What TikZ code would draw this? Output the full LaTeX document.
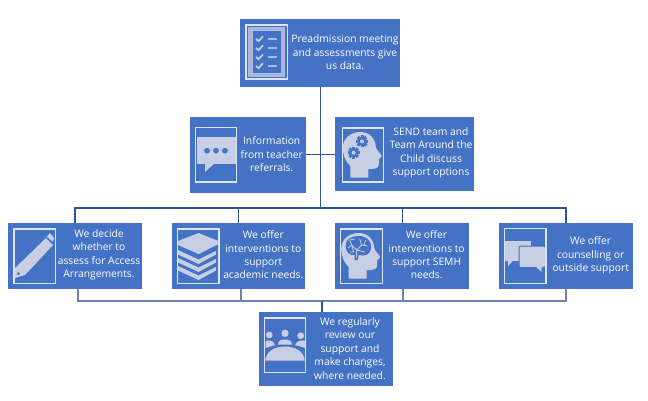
\documentclass[tikz,border=0pt]{standalone}
\usepackage{fontspec}
\setmainfont{Open Sans}
\definecolor{boxblue}{HTML}{4472C4}
\definecolor{iconfill}{HTML}{C8CFE5}
\definecolor{linkblue}{HTML}{2F5597}
\definecolor{linklav}{HTML}{6F7FB4}
\definecolor{frame}{HTML}{DCE3F2}
\definecolor{board}{HTML}{A9B8DE}
\tikzset{
  x=1pt,y=-1pt,
  card/.style={fill=boxblue,draw=none,inner sep=0pt,outer sep=0pt,minimum width=#1},
  cardtext/.style={text=white,align=center,font=\fontsize{10.3}{13.4}\selectfont,inner sep=0pt},
  iconframe/.style={draw=frame,line width=1.1pt},
  glyph/.style={fill=iconfill,draw=none},
  dent/.style={fill=boxblue,draw=none},
  link/.style={draw=linkblue,line width=1.3pt},
  linklow/.style={draw=linklav,line width=1.4pt}
}
\newcommand{\headshape}{%
  \path[glyph] (8,49.5) -- (8,38) .. controls (3,33) and (0.5,27) .. (0.5,20)
    .. controls (0.5,10) and (9,4) .. (18,4)
    .. controls (27,4) and (33,10) .. (33.5,19)
    .. controls (34,22) and (39.5,27) .. (39.5,28)
    .. controls (39.5,30) and (36.5,30) .. (36.5,31)
    -- (36.5,36) .. controls (36.5,40) and (33,41) .. (30,41)
    -- (26,41) -- (26,49.5) -- cycle;}
\newcommand{\gearat}[2]{%
  \begin{scope}[shift={(#1,#2)}]
    \foreach \a in {0,45,...,315}{\path[dent,rotate=\a] (-1.5,-6) rectangle (1.5,-3);}
    \path[dent] (0,0) circle (4.6);
    \path[glyph] (0,0) circle (2);
  \end{scope}}
\begin{document}
\begin{tikzpicture}
\useasboundingbox (0,0) rectangle (648,401);
% cards
\node[card=160pt,minimum height=68pt] (top) at (320,53) {};
\node[card=115.5pt,minimum height=76pt] (info) at (247.75,155) {};
\node[card=139pt,minimum height=74pt] (send) at (404.5,154) {};
\node[card=133.5pt,minimum height=66pt] (acc) at (74.75,256) {};
\node[card=133.5pt,minimum height=66pt] (acad) at (238.25,256) {};
\node[card=134pt,minimum height=66pt] (semh) at (402,256) {};
\node[card=134pt,minimum height=66pt] (couns) at (566,256) {};
\node[card=134pt,minimum height=74pt] (review) at (326,349) {};
% texts
\node[cardtext] (t0) at (345,52.5) {Preadmission meeting\\and assessments give\\us data.};
\node[cardtext] (t1) at (271.7,154.5) {Information\\from teacher\\referrals.};
\node[cardtext] (t2) at (431,153) {SEND team and\\Team Around the\\Child discuss\\support options};
\node[cardtext] (t3) at (99,255) {We decide\\whether to\\assess for Access\\Arrangements.};
\node[cardtext] (t4) at (263.3,255) {We offer\\interventions to\\support\\academic needs.};
\node[cardtext] (t5) at (426.7,255) {We offer\\interventions to\\support SEMH\\needs.};
\node[cardtext] (t6) at (590.7,255.5) {We offer\\counselling or\\outside support};
\node[cardtext] (t7) at (350,348.5) {We regularly\\review our\\support and\\make changes,\\where needed.};
% connectors
\coordinate (hub) at (320.5,208);
\coordinate (bus1) at (75,208); \coordinate (bus2) at (238.5,208);
\coordinate (bus3) at (402.5,208); \coordinate (bus4) at (566,208);
\coordinate (low1) at (78,301); \coordinate (low2) at (241,301);
\coordinate (low3) at (403,301); \coordinate (low4) at (566,301);
\coordinate (lowhub) at (322,301);
\draw[link] (top.south -| hub) -- (hub);
\draw[link] (info.east |- 0,154.5) -- (send.west |- 0,154.5);
\draw[link] (bus1 |- acc.north) -- (bus1) -- (bus4) -- (bus4 |- couns.north);
\draw[link] (bus2) -- (bus2 |- acad.north);
\draw[link] (bus3) -- (bus3 |- semh.north);
\draw[linklow] (low1 |- acc.south) -- (low1) -- (low4) -- (low4 |- couns.south);
\draw[linklow] (low2 |- acad.south) -- (low2);
\draw[linklow] (low3 |- semh.south) -- (low3);
\draw[link] (lowhub) -- (lowhub |- review.north);
% checklist icon
\path[fill=board] (248,27) rectangle (285,77);
\path[dent] (253,31) rectangle (281,73);
\foreach \y in {39,48,57,66}{
  \draw[draw=iconfill,line width=1.7pt] (256,\y) -- (258.5,\y+2.2) -- (263,\y-2.6);
  \draw[draw=board,line width=1.7pt] (268,\y) -- (277,\y);
}
\draw[iconframe] (246,25) rectangle (287.3,79);
% info bubble
\path[glyph] (197,137) rectangle (236,164);
\path[glyph] (205,163) -- (205,172) -- (215,163) -- cycle;
\foreach \x in {207,216,225}{\path[dent] (\x,150.7) circle (2.9);}
\draw[iconframe] (195.7,127.7) rectangle (236.7,182);
% send head
\begin{scope}[shift={(342.3,128)}]
  \headshape
  \gearat{19.7}{13.3}
  \gearat{11.3}{24.7}
\end{scope}
\draw[iconframe] (342.3,128) rectangle (383.3,182);
% pencil
\path[glyph] (15,268) -- (46,238) -- (53,245) -- (25,275) -- (15,278) -- cycle;
\path[glyph] (46.7,236.7) -- (50,233) -- (54.3,238.3) -- (52.7,241.7) -- cycle;
\path[dent] (18.5,273.5) circle (1.5);
\draw[iconframe] (14,229) rectangle (55.3,283.3);
% stack
\path[glyph] (178,241) -- (198.5,233) -- (218.5,241) -- (218.5,244) -- (198.5,254) -- (178,245) -- cycle;
\foreach \y in {250,258,266}{
  \path[glyph] (178,\y) -- (198.5,\y+9.5) -- (216,\y+1) -- (216,\y+4.5) -- (198.5,\y+14) -- (178,\y+4.5) -- cycle;
}
\draw[iconframe] (177.3,229) rectangle (219,283.3);
% brain head
\begin{scope}[shift={(340.7,229)}]
  \headshape
  \path[dent] (5,17) .. controls (5,9) and (12,7) .. (18,7)
     .. controls (26,7) and (31,12) .. (30.5,19)
     .. controls (30,25) and (24,28) .. (18,26)
     -- (17,31) -- (14,31) -- (14,26)
     .. controls (9,27) and (5,23) .. (5,17) -- cycle;
  \draw[draw=iconfill,line width=0.8pt] (15.5,29) -- (16,21) -- (11,16) -- (9,11);
  \draw[draw=iconfill,line width=0.8pt] (16,21) -- (21,16) -- (27,17);
  \draw[draw=iconfill,line width=0.8pt] (11,16) -- (7.5,19);
  \draw[draw=iconfill,line width=0.8pt] (21,16) -- (19,10);
  \draw[draw=iconfill,line width=0.8pt] (16,21) -- (24,23);
  \draw[draw=iconfill,line width=0.8pt] (9,11) -- (14,10);
  \draw[draw=iconfill,line width=0.8pt] (11,16) -- (13,23) -- (9,23);
  \draw[draw=iconfill,line width=0.8pt] (23,17) -- (25,11);
\end{scope}
\draw[iconframe] (340.7,229) rectangle (382.3,283.3);
% speech bubbles
\path[glyph] (505,240.7) rectangle (531,260.7);
\path[glyph] (507.5,260) -- (508.3,266) -- (513.5,260) -- cycle;
\path[glyph,draw=boxblue,line width=1pt,rounded corners=2pt] (519,246) rectangle (545.5,267.5);
\path[glyph] (536,267) -- (541.7,272) -- (541.7,267) -- cycle;
\draw[iconframe] (504.3,228.3) rectangle (546,283.3);
% meeting
\path[glyph] (285,333.3) circle (3.7);
\path[glyph] (269.3,335) circle (3.4);
\path[glyph] (300.7,335.7) circle (3.4);
\path[glyph] (278,344.5) .. controls (278,341) and (281,339.5) .. (285,339.5)
   .. controls (289,339.5) and (292,341) .. (292,344.5) -- cycle;
\path[glyph] (265.5,348) -- (265.5,341) .. controls (270,339.5) and (274,341) .. (275,345) -- cycle;
\path[glyph] (305.5,348) -- (305.5,341) .. controls (301,339.5) and (297,341) .. (295,345) -- cycle;
\path[glyph,draw=boxblue,line width=1pt] (264.8,361) .. controls (265,351) and (274,346) .. (285,346)
   .. controls (296,346) and (305,351) .. (305.2,361) -- cycle;
\draw[iconframe] (264.3,318) rectangle (305.7,372.3);
\end{tikzpicture}
\end{document}
